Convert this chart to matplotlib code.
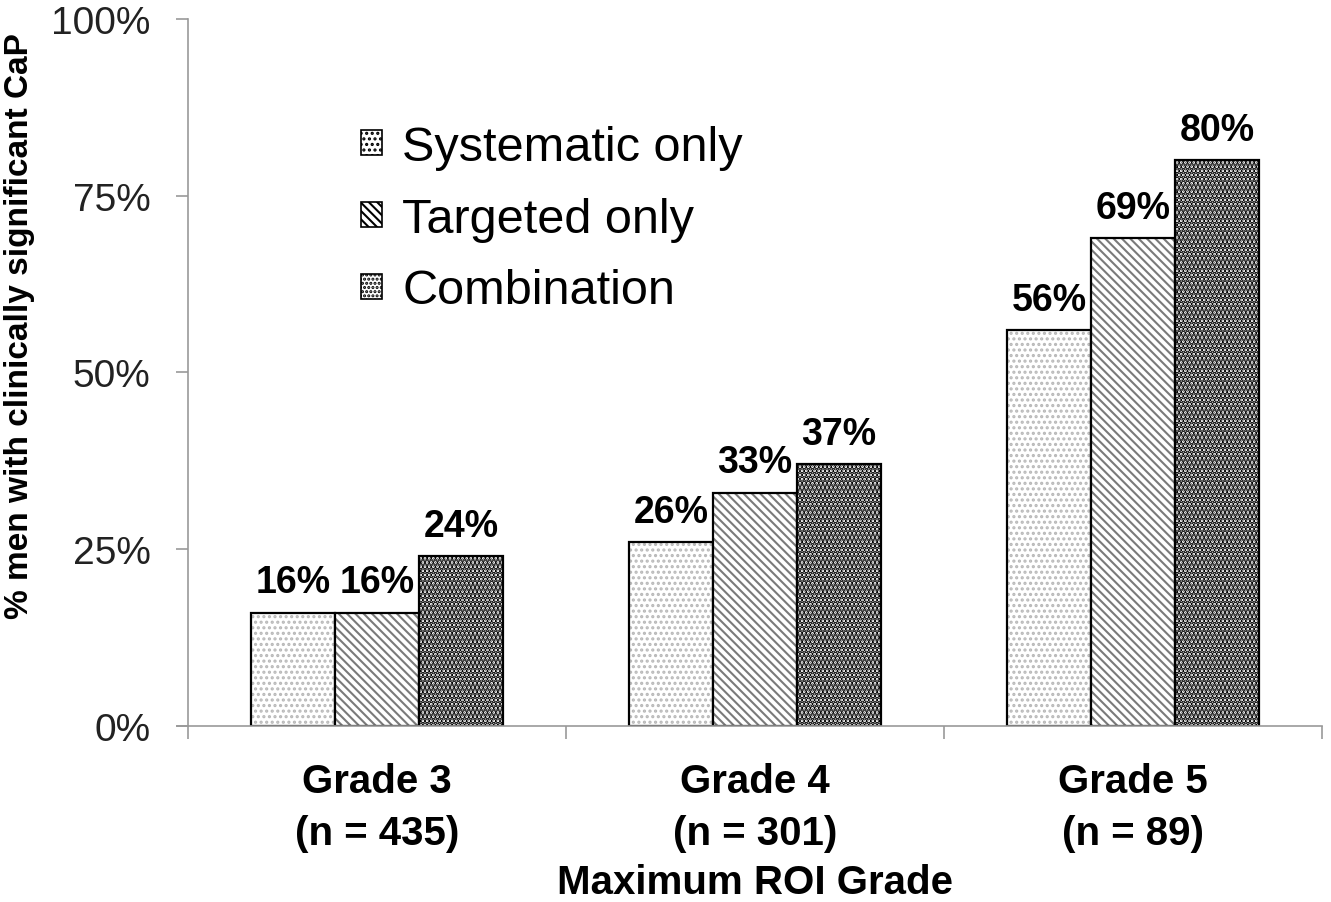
import matplotlib
matplotlib.use('Agg')
import matplotlib.pyplot as plt
import numpy as np
from matplotlib.patches import Patch

plt.rcParams['font.family'] = ['Liberation Sans', 'DejaVu Sans']
plt.rcParams['hatch.linewidth'] = 1.5

grades = ['Grade 3\n(n = 435)', 'Grade 4\n(n = 301)', 'Grade 5\n(n = 89)']
series = ['Systematic only', 'Targeted only', 'Combination']
systematic = [16, 26, 56]
targeted = [16, 33, 69]
combination = [24, 37, 80]

values = [systematic, targeted, combination]
hatches = ['...', '\\\\\\\\', '....']
hatch_cols = ['#b8b8b8', '#7a7a7a', '#000000']
hatch_lw = [1.5, 1.5, 2.6]

fig = plt.figure(figsize=(13.31, 9.03), dpi=100)
ax = fig.add_axes([0.1412, 0.1949, 0.852, 0.783])

x = np.arange(len(grades))
w = 0.222
for i, (vals, h, hc, hl) in enumerate(zip(values, hatches, hatch_cols, hatch_lw)):
    pos = x + (i - 1) * w
    with plt.rc_context({'hatch.linewidth': hl}):
        ax.bar(pos, vals, w, color='white', edgecolor=hc, hatch=h, linewidth=0)
    ax.bar(pos, vals, w, color='none', edgecolor='black', linewidth=1.6)
    for px, v in zip(pos, vals):
        ax.annotate(f'{v}%', (px, v), xytext=(0, 9), textcoords='offset points',
                    ha='center', va='bottom', fontsize=27, fontweight='bold')

ax.set_xlim(-0.5, 2.5)
ax.set_ylim(0, 100)
ax.set_yticks([0, 25, 50, 75, 100])
ax.set_yticklabels(['0%', '25%', '50%', '75%', '100%'])
ax.tick_params(axis='y', labelsize=28, length=9, width=1.2, color='#999999',
               pad=18, labelcolor='#222222')

ax.set_xticks([-0.5, 0.5, 1.5, 2.5])
ax.set_xticklabels([])
ax.tick_params(axis='x', which='major', length=9, width=1.2, color='#999999')
ax.set_xticks(x, minor=True)
ax.set_xticklabels(grades, minor=True, fontsize=29, fontweight='bold',
                   linespacing=1.45)
ax.tick_params(axis='x', which='minor', length=0, pad=26)

for s in ['top', 'right']:
    ax.spines[s].set_visible(False)
for s in ['left', 'bottom']:
    ax.spines[s].set_color('#999999')
    ax.spines[s].set_linewidth(1.2)
# x axis line sticks out a little left of the y axis
ax.plot([-0.53, -0.5], [0, 0], color='#999999', lw=1.2, clip_on=False)

ax.set_xlabel('Maximum ROI Grade', fontsize=29, fontweight='bold', labelpad=8)
ax.set_ylabel('% men with clinically significant CaP', fontsize=24,
              fontweight='bold')
ax.yaxis.set_label_coords(-0.1345, 0.567)

handles = []
for h, hc in zip(['...', '\\\\\\\\', '....'], ['#999999', '#555555', '#000000']):
    handles.append(Patch(facecolor='white', edgecolor=hc, linewidth=1.2, hatch=h))
leg = ax.legend(handles, series, loc='upper left', bbox_to_anchor=(0.153, 0.85),
                frameon=False, fontsize=35, handlelength=0.42, handleheight=0.42,
                handletextpad=0.42, labelspacing=0.55, borderpad=0,
                borderaxespad=0)
for p in leg.get_patches():
    p.set_edgecolor('black')

fig.savefig('out.png', dpi=100)
